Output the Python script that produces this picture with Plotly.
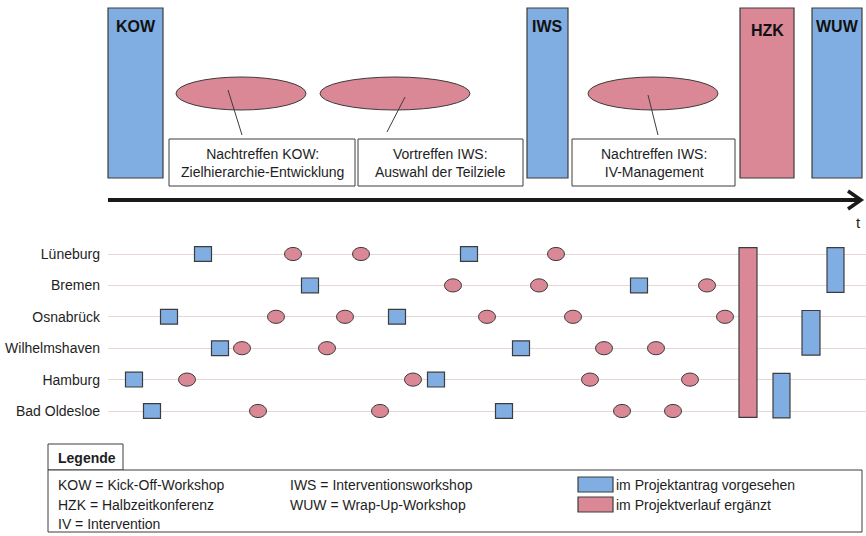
import plotly.graph_objects as go

W, H = 866, 536
FONT = "Liberation Sans Narrow, Arial Narrow, Liberation Sans, Arial, sans-serif"
BLUE = "#80ade2"
PINK = "#da8896"
EDGE = "#3c3c3c"
TXT = "#1e1e1e"

# ---------------- data ----------------
# overview timeline (time axis in arbitrary units)
phase_names = ["KOW", "IWS", "HZK", "WUW"]
phase_start = [108, 527, 740, 812]
phase_end = [163, 568, 794, 862]
phase_kind = ["planned", "planned", "added", "planned"]

meeting_center = [241, 395, 653]
meeting_text = ["Nachtreffen KOW:<br>Zielhierarchie-Entwicklung",
                "Vortreffen IWS:<br>Auswahl der Teilziele",
                "Nachtreffen IWS:<br>IV-Management"]

# per-site timelines
cities = ["Lüneburg", "Bremen", "Osnabrück", "Wilhelmshaven", "Hamburg", "Bad Oldesloe"]
planned_times = [[203, 469], [310, 639], [169, 397], [220, 521], [134, 436], [152, 504]]
added_times = [[293, 361, 556], [453, 539, 707], [276, 345, 487, 573, 725],
               [242, 327, 604, 656], [187, 413, 590, 690], [258, 380, 622, 673]]
hzk_time = [739, 757]
wuw_groups = [[0, 1], [2, 3], [4, 5]]
wuw_time = [[827, 844], [802, 820], [773, 790]]

# ---------------- layout helpers (pixel geometry) ----------------
meeting_halfwidth = [65, 75, 65]
box_x = [(169, 355), (358, 523), (572, 735)]
conn = [((228, 90), (242, 135)), ((405, 97), (387, 132)), ((648, 95), (658, 135))]

def px(x):
    return x / W

def py(y):
    return 1 - y / H

ROW_TOP_PX, ROW_STEP = 254, 31.4
DOM_TOP, DOM_BOT = 236, 430
y2_range = [(DOM_BOT - ROW_TOP_PX) / ROW_STEP, -(ROW_TOP_PX - DOM_TOP) / ROW_STEP]

fig = go.Figure()
# invisible anchor traces so both subplots exist
fig.add_trace(go.Scatter(x=[0, 866], y=[0, 230], mode="markers", marker=dict(opacity=0),
                         xaxis="x", yaxis="y", hoverinfo="skip", showlegend=False))
fig.add_trace(go.Scatter(x=[108, 866], y=[0, 5], mode="markers", marker=dict(opacity=0),
                         xaxis="x2", yaxis="y2", hoverinfo="skip", showlegend=False))

shapes = []
annots = []

def fill_of(kind):
    return BLUE if kind == "planned" else PINK

# ---- top overview ----
for name, s, e, k in zip(phase_names, phase_start, phase_end, phase_kind):
    shapes.append(dict(type="rect", xref="x", yref="y", x0=s, x1=e, y0=8, y1=178,
                       fillcolor=fill_of(k), line=dict(color=EDGE, width=1.2)))
    annots.append(dict(xref="x", yref="y", x=(s + e) / 2, y=26 if name != "HZK" else 30,
                       text="<b>%s</b>" % name, showarrow=False,
                       font=dict(family=FONT, size=16, color="#111")))

for c, hw, t, (bx0, bx1), (p0, p1) in zip(meeting_center, meeting_halfwidth, meeting_text, box_x, conn):
    shapes.append(dict(type="circle", xref="x", yref="y", x0=c - hw, x1=c + hw, y0=77, y1=110,
                       fillcolor=PINK, line=dict(color=EDGE, width=1)))
    shapes.append(dict(type="line", xref="x", yref="y", x0=p0[0], y0=p0[1], x1=p1[0], y1=p1[1],
                       line=dict(color=EDGE, width=1)))
    shapes.append(dict(type="rect", xref="x", yref="y", x0=bx0, x1=bx1, y0=139, y1=186,
                       fillcolor="white", line=dict(color=EDGE, width=1)))
    annots.append(dict(xref="x", yref="y", x=(bx0 + bx1) / 2, y=162.5, text=t, showarrow=False,
                       align="center", font=dict(family=FONT, size=14, color=TXT)))

# time arrow
shapes.append(dict(type="line", xref="x", yref="y", x0=108, x1=859, y0=200, y1=200,
                   line=dict(color="#1a1a1a", width=4)))
shapes.append(dict(type="path", xref="x", yref="y", path="M 848 191 L 861 200 L 848 209",
                   line=dict(color="#1a1a1a", width=3.5)))
annots.append(dict(xref="x", yref="y", x=858, y=222, text="t", showarrow=False,
                   font=dict(family=FONT, size=15, color=TXT)))

# ---- per-site rows ----
SQ_HW, SQ_HH = 8.5, 0.235
EL_HW, EL_HH = 8.5, 0.21
for i, (pl, ad) in enumerate(zip(planned_times, added_times)):
    for t in ad:
        shapes.append(dict(type="circle", xref="x2", yref="y2", x0=t - EL_HW, x1=t + EL_HW,
                           y0=i - EL_HH, y1=i + EL_HH, fillcolor=PINK, line=dict(color=EDGE, width=1)))
    for t in pl:
        shapes.append(dict(type="rect", xref="x2", yref="y2", x0=t - SQ_HW, x1=t + SQ_HW,
                           y0=i - SQ_HH, y1=i + SQ_HH, fillcolor=BLUE, line=dict(color=EDGE, width=1.2)))

shapes.append(dict(type="rect", xref="x2", yref="y2", x0=hzk_time[0], x1=hzk_time[1],
                   y0=-0.2, y1=len(cities) - 1 + 0.2, fillcolor=PINK, line=dict(color=EDGE, width=1.2)))
for g, (t0, t1) in zip(wuw_groups, wuw_time):
    shapes.append(dict(type="rect", xref="x2", yref="y2", x0=t0, x1=t1,
                       y0=g[0] - 0.2, y1=g[-1] + 0.22, fillcolor=BLUE, line=dict(color=EDGE, width=1.2)))

# ---- legend box (paper) ----
def prect(x0, x1, y0, y1, fill="white", lw=1):
    return dict(type="rect", xref="paper", yref="paper", x0=px(x0), x1=px(x1), y0=py(y1), y1=py(y0),
                fillcolor=fill, line=dict(color=EDGE, width=lw))

shapes.append(prect(48, 123, 444, 470))
shapes.append(prect(48, 862, 470, 532))
shapes.append(prect(578, 613, 477, 492, BLUE, 1.2))
shapes.append(prect(578, 613, 497, 512, PINK, 1.2))

def ptext(x, y, t, size=14, bold=False):
    annots.append(dict(xref="paper", yref="paper", x=px(x), y=py(y), xanchor="left", yanchor="middle",
                       text=("<b>%s</b>" % t) if bold else t, showarrow=False,
                       font=dict(family=FONT, size=size, color=TXT)))

ptext(56, 458, "Legende", 14, True)
ptext(56, 485, "KOW = Kick-Off-Workshop")
ptext(56, 505, "HZK = Halbzeitkonferenz")
ptext(56, 524, "IV = Intervention")
ptext(288, 485, "IWS = Interventionsworkshop")
ptext(288, 505, "WUW = Wrap-Up-Workshop")
ptext(614, 485, "im Projektantrag vorgesehen")
ptext(614, 505, "im Projektverlauf ergänzt")

fig.update_layout(
    width=W, height=H, margin=dict(l=0, r=0, t=0, b=0),
    paper_bgcolor="white", plot_bgcolor="white", showlegend=False,
    shapes=shapes, annotations=annots,
    font=dict(family=FONT, size=14, color=TXT),
    xaxis=dict(domain=[0, 1], range=[0, 866], visible=False, fixedrange=True),
    yaxis=dict(domain=[py(230), 1], range=[230, 0], visible=False, fixedrange=True),
    xaxis2=dict(domain=[px(108), 1], range=[108, 866], anchor="y2", visible=False, fixedrange=True),
    yaxis2=dict(domain=[py(DOM_BOT), py(DOM_TOP)], range=y2_range, anchor="x2",
                tickmode="array", tickvals=list(range(len(cities))), ticktext=cities,
                showgrid=True, gridcolor="#e6d6d6", gridwidth=1, zeroline=False, showline=False,
                ticks="", ticklabelstandoff=7, tickfont=dict(family=FONT, size=14, color=TXT),
                fixedrange=True),
)

fig.write_html("out.html", config={"displayModeBar": False},
               post_script="document.body.style.margin='0';document.body.style.overflow='hidden';")
